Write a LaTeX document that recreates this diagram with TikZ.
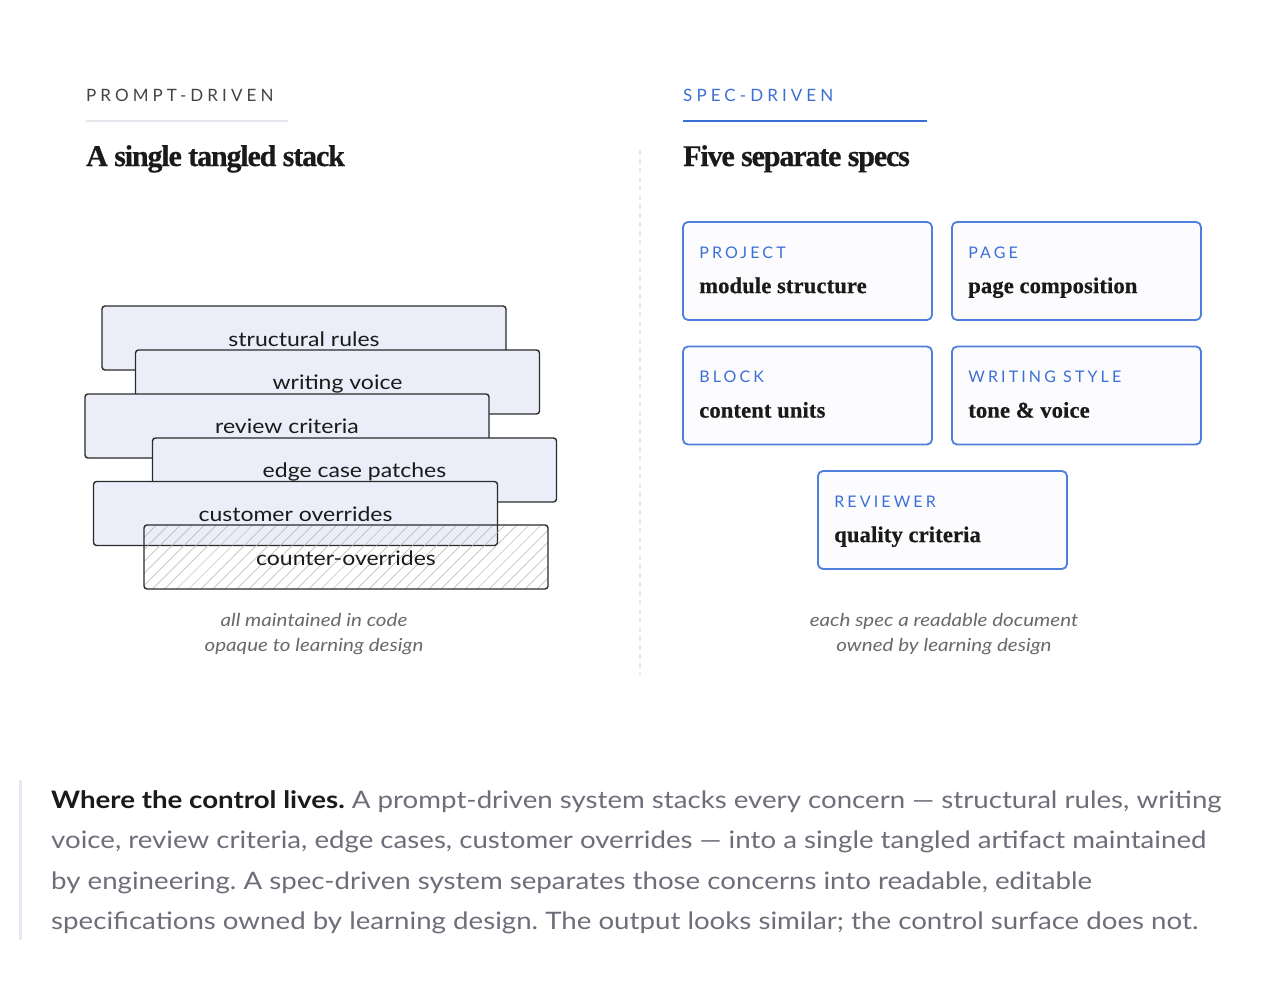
\documentclass[tikz,border=0pt]{standalone}
\usepackage{fontspec}
\setmainfont{Lato}[FakeStretch=1.15]
\newfontfamily\capsfont{Lato}[LetterSpace=24]
\newfontfamily\headfont{Liberation Serif}[BoldFeatures={FakeBold=0.6}]
\usetikzlibrary{patterns.meta}
\definecolor{ink}{HTML}{1A1A1A}
\definecolor{labelgray}{HTML}{444444}
\definecolor{specblue}{HTML}{3B6FD6}
\definecolor{boxblue}{HTML}{4F7FDC}
\definecolor{lav}{HTML}{EBEDF9}
\definecolor{stackline}{HTML}{2B2B2B}
\definecolor{capgray}{HTML}{6A6A6A}
\definecolor{paragray}{HTML}{6E6E7A}
\definecolor{rulegray}{HTML}{E6E6EE}
\definecolor{barcol}{HTML}{E8E8F2}
\definecolor{specfill}{HTML}{FCFCFF}
\tikzset{
  stackbox/.style={draw=stackline, line width=1.4pt, fill=lav, rounded corners=3pt,
    minimum width=404pt, minimum height=64pt, inner sep=0pt},
  hatchbox/.style={draw=stackline, line width=1.4pt, rounded corners=3pt,
    pattern={Lines[angle=45,distance=8.5pt,line width=0.5pt]}, pattern color=black!30,
    minimum width=404pt, minimum height=64pt, inner sep=0pt},
  stacktext/.style={anchor=base, inner sep=0pt, text=ink, font=\fontsize{20}{24}\selectfont},
  specbox/.style={draw=boxblue, line width=1.8pt, fill=specfill, rounded corners=5pt,
    minimum width=249pt, minimum height=98pt, inner sep=0pt},
  speclabel/.style={anchor=base west, inner sep=0pt, text=specblue,
    font={\capsfont\fontsize{16}{20}\selectfont\addfontfeature{LetterSpace=19.5}}},
  spectitle/.style={anchor=base west, inner sep=0pt, text=ink,
    font={\headfont\bfseries\fontsize{22.5}{27}\selectfont\addfontfeature{LetterSpace=0.7}}},
  kicker/.style={anchor=base west, inner sep=0pt, font=\capsfont\fontsize{17}{20}\selectfont},
  heading/.style={anchor=base west, inner sep=0pt, text=ink,
    font={\headfont\bfseries\fontsize{30}{36}\selectfont\addfontfeature{LetterSpace=-3.8}}},
  caption/.style={anchor=base, inner sep=0pt, text=capgray, font=\itshape\fontsize{17.9}{21}\selectfont},
  para/.style={anchor=base west, inner sep=0pt, text=paragray, font=\frenchspacing\fontsize{24.05}{30}\selectfont},
}
\begin{document}
\begin{tikzpicture}[x=1pt,y=-1pt]
\useasboundingbox[fill=white] (0,0) rectangle (1266,982);

% headers
\node[kicker, text=labelgray] (k1) at (86,101) {PROMPT-DRIVEN};
\node[kicker, text=specblue] (k2) at (683,101) {SPEC-DRIVEN};
\draw[rulegray, line width=2pt] (86,121) -- (288,121);
\draw[specblue, line width=2pt] (683,121) -- (927,121);
\node[heading] (h1) at (86,166) {A single tangled stack};
\node[heading] (h2) at (683,166) {Five separate specs};

% divider
\draw[rulegray, line width=1.2pt, dash pattern=on 5pt off 4pt] (640,150) -- (640,675);

% stack
\node[stackbox] (s1) at (304,338) {};
\node[stacktext] (t1) at ([yshift=-41pt]s1.north) {structural rules};
\node[stackbox] (s2) at (337.5,382) {};
\node[stacktext] (t2) at ([yshift=-40.5pt]s2.north) {writing voice};
\node[stackbox] (s3) at (287,426) {};
\node[stacktext] (t3) at ([yshift=-40.5pt]s3.north) {review criteria};
\node[stackbox] (s4) at (354.5,470) {};
\node[stacktext] (t4) at ([yshift=-40.5pt]s4.north) {edge case patches};
\node[stackbox] (s5) at (295.5,513.5) {};
\node[stacktext] (t5) at ([yshift=-40.5pt]s5.north) {customer overrides};
\node[hatchbox] (s6) at (346,557) {};
\node[stacktext] (t6) at ([yshift=-40.5pt]s6.north) {counter-overrides};

\node[caption] (c1) at (314,626) {all maintained in code};
\node[caption] (c2) at (314,651) {opaque to learning design};

% specs
\node[specbox] (b1) at (807.5,271) {};
\node[speclabel] (l1) at ([shift={(17pt,-37pt)}]b1.north west) {PROJECT};
\node[spectitle] (m1) at ([shift={(17pt,-72pt)}]b1.north west) {module structure};
\node[specbox] (b2) at (1076.5,271) {};
\node[speclabel] (l2) at ([shift={(17pt,-37pt)}]b2.north west) {PAGE};
\node[spectitle] (m2) at ([shift={(17pt,-72pt)}]b2.north west) {page composition};
\node[specbox] (b3) at (807.5,395.5) {};
\node[speclabel] (l3) at ([shift={(17pt,-37pt)}]b3.north west) {BLOCK};
\node[spectitle] (m3) at ([shift={(17pt,-72pt)}]b3.north west) {content units};
\node[specbox] (b4) at (1076.5,395.5) {};
\node[speclabel] (l4) at ([shift={(17pt,-37pt)}]b4.north west) {WRITING STYLE};
\node[spectitle] (m4) at ([shift={(17pt,-72pt)}]b4.north west) {tone \& voice};
\node[specbox] (b5) at (942.5,520) {};
\node[speclabel] (l5) at ([shift={(17pt,-37pt)}]b5.north west) {REVIEWER};
\node[spectitle] (m5) at ([shift={(17pt,-72pt)}]b5.north west) {quality criteria};

\node[caption] (c3) at (944,626) {each spec a readable document};
\node[caption] (c4) at (944,651) {owned by learning design};

% bottom note
\draw[barcol, line width=3pt] (20,780) -- (20,940);
\node[para] (p1) at (51,808) {\textcolor{ink}{\bfseries Where the control lives.} A prompt-driven system stacks every concern — structural rules, writing};
\node[para] (p2) at (51,848.5) {voice, review criteria, edge cases, customer overrides — into a single tangled artifact maintained};
\node[para] (p3) at (51,889) {by engineering. A spec-driven system separates those concerns into readable, editable};
\node[para] (p4) at (51,929) {specifications owned by learning design. The output looks similar; the control surface does not.};
\end{tikzpicture}
\end{document}
